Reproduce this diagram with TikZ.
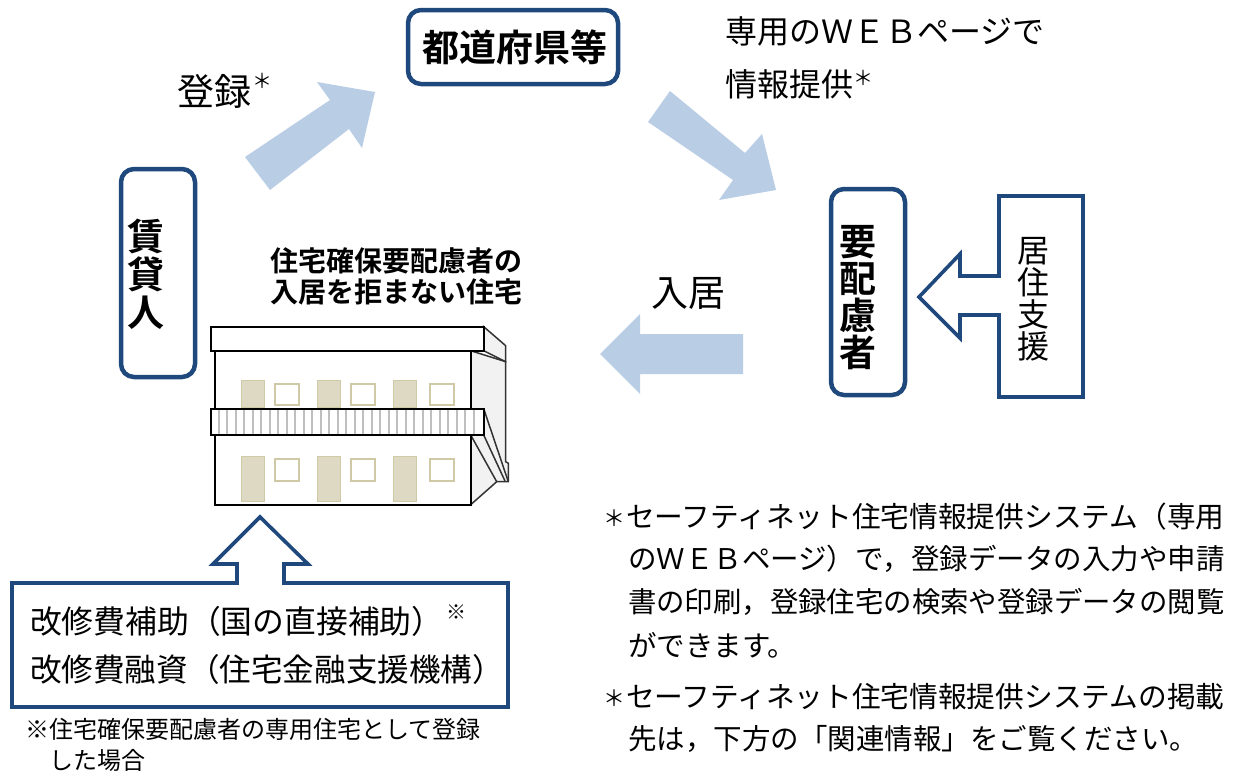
\documentclass[tikz,border=0pt]{standalone}
\usepackage{fontspec}
\setmainfont{Noto Sans CJK JP}
\newfontfamily\jpb{Noto Sans CJK JP Bold}
\definecolor{navy}{HTML}{1F497D}
\definecolor{pale}{HTML}{B9CDE5}
\definecolor{door}{HTML}{DDD9C3}
\definecolor{doorl}{HTML}{CFC9A5}
\definecolor{sidew}{HTML}{F2F2F2}
\newcommand{\fs}[2]{\fontsize{#1pt}{#2pt}\selectfont}
\tikzset{
  roundbox/.style={draw=navy,line width=4.5pt,rounded corners=13pt,fill=white},
  bigarrow/.style={fill=pale,draw=none},
  outarrow/.style={draw=navy,line width=3.6pt,fill=white,line join=miter},
  bline/.style={draw=black,line width=2.4pt,fill=white},
  sline/.style={draw=black!80,line width=1.5pt},
  doorbox/.style={fill=door,draw=doorl,line width=1pt},
  winbox/.style={fill=white,draw=doorl,line width=1.3pt},
  txt/.style={inner sep=0pt,outer sep=0pt,anchor=west},
  vtxt/.style={inner sep=0pt,outer sep=0pt,align=center},
}
\begin{document}
\begin{tikzpicture}[x=1pt,y=-1pt]
\useasboundingbox (0,0) rectangle (1238,771);
% main nodes
\draw[roundbox] (408,10) rectangle (618,84);
\node[vtxt,font=\fs{37}{37}\jpb] (pref) at (515,47) {都道府県等};
\draw[roundbox] (121,169) rectangle (195,377);
\node[vtxt,font=\fs{37}{38}\jpb] (owner) at (146,274) {賃\\貸\\人};
\draw[roundbox] (831,189) rectangle (905,395);
\node[vtxt,font=\fs{37}{37}\jpb] (need) at (858,298) {要\\配\\慮\\者};
% large pale arrows
\fill[bigarrow] (245,157) -- (330,100) -- (317,82) -- (375,92) -- (362,148) -- (349,129) -- (270,190) -- cycle;
\fill[bigarrow] (648,122) -- (670,91) -- (745,153) -- (762,134) -- (776,190) -- (719,200) -- (733,180) -- cycle;
\fill[bigarrow] (600,354) -- (640,314) -- (640,334) -- (743,334) -- (743,374) -- (640,374) -- (640,394) -- cycle;
% labels
\node[txt,font=\fs{37}{37}] (reg) at (177,91) {登録};
\node[txt,font=\fs{20}{20}] (regs) at (252,81) {＊};
\node[txt,font=\fs{32}{32}] (web1) at (725,31) {専用のＷＥＢページで};
\node[txt,font=\fs{32}{32}] (web2) at (725,84) {情報提供};
\node[txt,font=\fs{20}{20}] (webs) at (853,78) {＊};
\node[txt,font=\fs{37}{37}] (move) at (651,293) {入居};
\node[vtxt,font=\fs{28}{31}\jpb] (house) at (396,276) {住宅確保要配慮者の\\入居を拒まない住宅};
% support callout
\draw[outarrow] (999,196) -- (1083,196) -- (1083,397) -- (999,397) -- (999,315) -- (960,315) -- (960,338) -- (919,297) -- (960,254) -- (960,276) -- (999,276) -- cycle;
\node[vtxt,font=\fs{32}{32}] (supp) at (1033,299) {居\\住\\支\\援};
% subsidy callout
\draw[outarrow] (12,583) -- (237,583) -- (237,564) -- (213,564) -- (260,517) -- (308,564) -- (284,564) -- (284,583) -- (508,583) -- (508,707) -- (12,707) -- cycle;
\node[txt,font=\fs{31.8}{32}] (aid1) at (30,621) {改修費補助（国の直接補助）};
\node[txt,font=\fs{20}{20}] (aidm) at (446,612) {※};
\node[txt,font=\fs{31.6}{32}] (aid2) at (30,669) {改修費融資（住宅金融支援機構）};
\node[txt,font=\fs{24}{24}] (fn1) at (25,729) {※住宅確保要配慮者の専用住宅として登録};
\node[txt,font=\fs{24}{24}] (fn2) at (49,760) {した場合};
% building
\draw[sline,fill=sidew] (470.7,350.7) -- (505.7,361.7) -- (505.7,461.7) -- (508.3,463.3) -- (508.3,481.7) -- (496.7,481.7) -- (470.7,504.7) -- cycle;
\draw[sline,fill=sidew] (483.7,326.7) -- (505.7,345.7) -- (505.7,361.7) -- (483.7,350.7) -- cycle;
\draw[sline] (483.7,408.7) -- (508.3,481.7);
\draw[sline] (470.7,435) -- (496.7,481.7);
\draw[sline] (483.7,435) -- (505,481);
\draw[bline] (214.7,350.7) rectangle (470.7,504.7);
\draw[bline] (210.7,326.7) rectangle (483.7,350.7);
\foreach \x in {241.5,317.5,393.5}{
  \draw[doorbox] (\x,380.5) rectangle +(23,27);
  \draw[doorbox] (\x,456) rectangle +(23,45.5);
}
\foreach \x in {275,351,430}{
  \draw[winbox] (\x,384) rectangle +(24,21);
  \draw[winbox] (\x,459) rectangle +(24,22);
}
\draw[draw=black,line width=2.4pt,fill=white] (210.7,408.7) rectangle (483.7,435);
\foreach \i in {0,...,30}{
  \draw[black!25,line width=2pt] ({218.5+8.5*\i},410) -- ({218.5+8.5*\i},433.7);
}
\draw[black,line width=2.4pt] (210.7,408.7) rectangle (483.7,435);
% notes
\node[txt,font=\fs{22}{22}] (n1m) at (603,518) {＊};
\node[txt,font=\fs{28.7}{28.7}] (n1a) at (626,517) {セーフティネット住宅情報提供システム（専用};
\node[txt,font=\fs{28.5}{28.5}] (n1b) at (628,559) {のＷＥＢページ）で，登録データの入力や申請};
\node[txt,font=\fs{28.4}{28.4}] (n1c) at (628,602) {書の印刷，登録住宅の検索や登録データの閲覧};
\node[txt,font=\fs{28.5}{28.5}] (n1d) at (628,645) {ができます。};
\node[txt,font=\fs{22}{22}] (n2m) at (603,698) {＊};
\node[txt,font=\fs{28.7}{28.7}] (n2a) at (626,697) {セーフティネット住宅情報提供システムの掲載};
\node[txt,font=\fs{28.5}{28.5}] (n2b) at (628,739) {先は，下方の「関連情報」をご覧ください。};
\end{tikzpicture}
\end{document}
